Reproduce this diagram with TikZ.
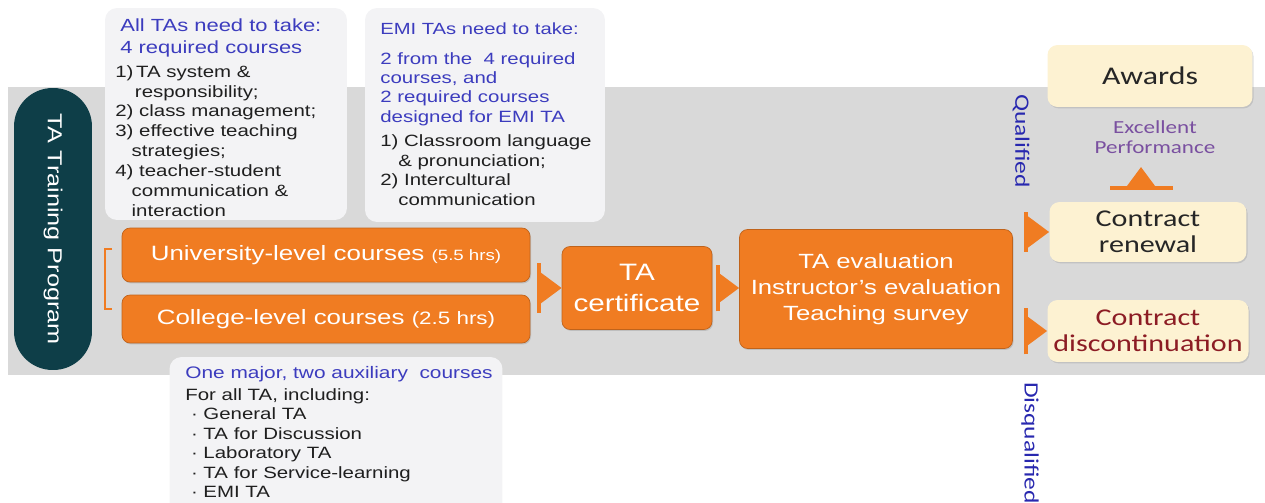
\documentclass[tikz,border=0pt]{standalone}
\usepackage{fontspec}
\setmainfont{Liberation Sans}[FakeStretch=1.25]
\newfontfamily\calibfont{Carlito}[FakeStretch=1.25]
\usetikzlibrary{positioning,arrows.meta,shadows}
\definecolor{bandgray}{RGB}{217,217,217}
\definecolor{notegray}{RGB}{243,243,245}
\definecolor{tealdark}{RGB}{14,62,72}
\definecolor{taorange}{RGB}{240,124,34}
\definecolor{cream}{RGB}{253,242,210}
\definecolor{headblue}{RGB}{60,60,190}
\definecolor{qualblue}{RGB}{40,40,175}
\definecolor{perfpurple}{RGB}{122,80,160}
\definecolor{stopred}{RGB}{140,28,36}
\newcommand{\fs}[2]{\fontsize{#1}{#2}\selectfont}

\begin{document}
\begin{tikzpicture}[x=0.02cm, y=-0.02cm,
  note/.style={fill=notegray, rounded corners=0.24cm, inner sep=0pt},
  notetext/.style={anchor=north west, inner sep=0pt, align=left, text=black!88},
  course/.style={fill=taorange, draw=taorange!80!black, line width=0.4pt, rounded corners=0.16cm, text=white, align=center, drop shadow={opacity=0.3, shadow xshift=0.6pt, shadow yshift=-0.8pt}},
  result/.style={fill=cream, rounded corners=0.2cm, align=center, text=black!85, font=\calibfont\fs{13.7}{14.5}, drop shadow={opacity=0.25, shadow xshift=0.6pt, shadow yshift=-0.8pt}},
  gate/.style={draw=taorange, line width=2.3pt, arrows={Bar[width=#1]-Triangle[length=0.42cm,width=0.6cm]}},
  side/.style={rotate=-90, font=\calibfont\fs{11.6}{13}, text=qualblue}
]
  \useasboundingbox (0,0) rectangle (1265,503);
  \fill[bandgray] (8,87) rectangle (1265,375);

  \node[fill=tealdark, rounded corners=0.77cm, minimum width=5.64cm, minimum height=1.56cm, rotate=-90, text=white, font=\fs{11.5}{13}] (program) at (53,229) {TA Training Program};

  % notes above and below the courses
  \node[note, minimum width=4.84cm, minimum height=4.24cm] (alltas) at (226,114) {};
  \node[notetext, text=headblue, font=\fs{10}{12.5}] (alltashead) at (120,18) {All TAs need to take:\\4 required courses};
  \node[notetext, font=\fs{9.3}{11.3}] (alltaslist) at (115,65) {1)\,TA system \&\\\hspace*{1.2em}responsibility;\\2) class management;\\3) effective teaching\\\hspace*{1em}strategies;\\4) teacher-student\\\hspace*{1em}communication \&\\\hspace*{1em}interaction};

  \node[note, minimum width=4.8cm, minimum height=4.28cm] (emi) at (485,115) {};
  \node[notetext, text=headblue, font=\fs{9.2}{11}] (emihead) at (380,22) {EMI TAs need to take:};
  \node[notetext, text=headblue, font=\fs{9.3}{11}] (emiblue) at (380,52) {2 from the\ \ 4 required\\courses, and\\2 required courses\\designed for EMI TA};
  \node[notetext, font=\fs{9.3}{11.3}] (emilist) at (380,134) {1) Classroom language\\\hspace*{1.1em}\& pronunciation;\\2) Intercultural\\\hspace*{1.1em}communication};

  \node[note, minimum width=6.66cm, minimum height=3.16cm] (roles) at (336,436) {};
  \node[notetext, text=headblue, font=\fs{9.5}{11}] (roleshead) at (185,366) {One major, two auxiliary\ \ courses};
  \node[notetext, font=\fs{9.3}{11.1}] (roleslist) at (185,388) {For all TA, including:\\\ \textperiodcentered\ General TA\\\ \textperiodcentered\ TA for Discussion\\\ \textperiodcentered\ Laboratory TA\\\ \textperiodcentered\ TA for Service-learning\\\ \textperiodcentered\ EMI TA};

  % orange flow
  \draw[taorange, line width=1.1pt] (112,249) -- (105,249) -- (105,309) -- (112,309);
  \node[course, minimum width=8.16cm, minimum height=1.08cm, font=\fs{11.8}{13}] (univ) at (326,255) {University-level courses {\fs{8.5}{10}(5.5 hrs)}};
  \node[course, minimum width=8.16cm, minimum height=0.96cm, font=\fs{11.8}{13}] (college) at (326,319) {College-level courses {\fs{10.2}{12}(2.5 hrs)}};
  \node[course, minimum width=3cm, minimum height=1.66cm, font=\fs{13.5}{18}] (cert) at (637,288) {TA\\certificate};
  \node[course, minimum width=5.46cm, minimum height=2.38cm, font=\fs{11.7}{14.7}] (eval) at (876,289) {TA evaluation\\Instructor’s evaluation\\Teaching survey};

  % outcomes
  \node[result, minimum width=4.1cm, minimum height=1.24cm, font=\calibfont\fs{14.5}{16}] (awards) at (1150,76) {Awards};
  \node[result, minimum width=3.94cm, minimum height=1.2cm] (renewal) at (1148,232) {Contract\\renewal};
  \node[result, minimum width=3.94cm, minimum height=1.24cm, text=stopred] (discont) at (1148,331) {Contract\\discontinuation};
  \node[align=center, text=perfpurple, font=\calibfont\fs{10.5}{11.3}] (excellent) at (1155,137) {Excellent\\Performance};
  \node[side] (qualified) at (1021,141) {Qualified};
  \node[side] (disqualified) at (1030,443) {Disqualified};

  \coordinate (g1) at (537,288);
  \coordinate (g2) at (716,288);
  \coordinate (g3) at (1024,232);
  \coordinate (g4) at (1024,331);
  \coordinate (upbase) at (1141,190);
  \coordinate (uptip) at (1141,167);
  \draw[gate=1cm] (g1) -- (g1 -| cert.west);
  \draw[gate=0.94cm] (g2) -- (g2 -| eval.west);
  \draw[gate=0.8cm] (g3) -- (g3 -| renewal.west);
  \draw[gate=0.94cm] (g4) -- (g4 -| discont.west);
  \draw[gate=1.26cm] (upbase) -- (uptip);
\end{tikzpicture}
\end{document}
